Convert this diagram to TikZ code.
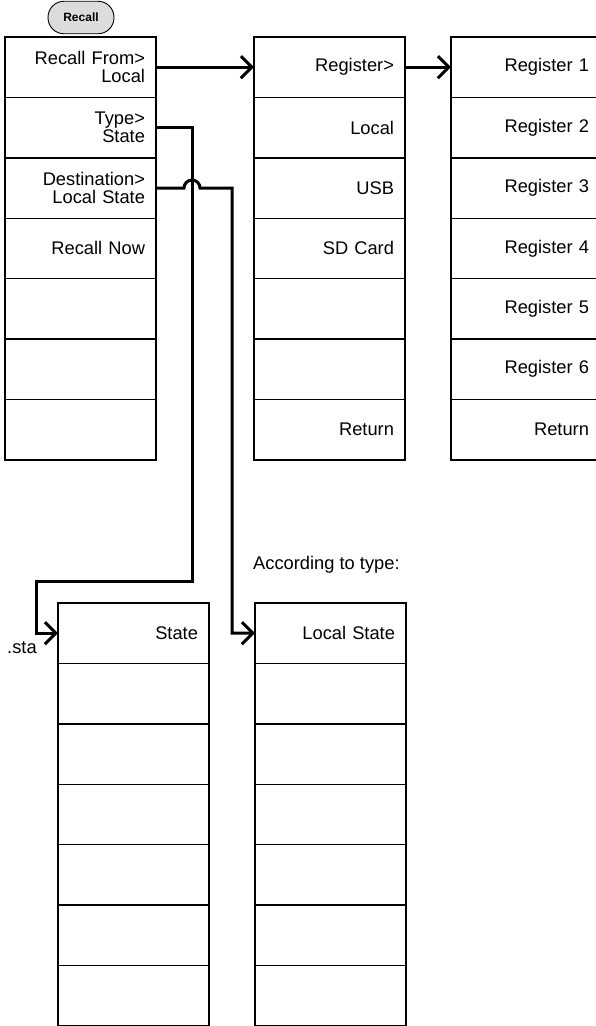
\documentclass[tikz,border=0pt]{standalone}
\usepackage{fontspec}
\setmainfont{Liberation Sans}
\usetikzlibrary{arrows.meta}

\begin{document}
\begin{tikzpicture}[x=1pt,y=-1pt,
	menukey/.style={draw=black, line width=1.4pt, fill=white, outer sep=0pt,
		minimum height=60.4pt, text width=129pt, inner xsep=11pt, inner ysep=0pt,
		align=right, anchor=north west, font=\fontsize{18.3}{18}\selectfont},
	conn/.style={line width=3pt},
	arr/.style={conn, -{Straight Barb[length=11pt,width=22pt]}},
	note/.style={anchor=west, inner sep=0pt, font=\fontsize{18.3}{18}\selectfont}]
	
	% Farben
	\definecolor{btngray}{RGB}{220,220,220}
	
	\useasboundingbox (0,0) rectangle (596,1026);
	
	% Recall-Taste
	\node[draw=black, fill=btngray, line width=0.9pt, rounded corners=16pt,
		minimum width=66pt, minimum height=32.5pt, inner sep=0pt,
		font=\bfseries\fontsize{12}{12}\selectfont] (recallkey) at (81,17.5) {Recall};
	
	% Hauptmenue
	\foreach \i/\lbl in {1/{Recall From>\\Local}, 2/{Type>\\State},
		3/{Destination>\\Local State}, 4/{Recall Now}, 5/{}, 6/{}, 7/{}}
		\node[menukey] (l\i) at (5,{37+(\i-1)*60.4}) {\lbl};
	
	% Recall From
	\foreach \i/\lbl in {1/{Register>}, 2/{Local}, 3/{USB}, 4/{SD Card}, 5/{}, 6/{}, 7/{Return}}
		\node[menukey] (m\i) at (254,{37+(\i-1)*60.4}) {\lbl};
	
	% Register
	\foreach \i/\lbl in {1/{Register 1}, 2/{Register 2}, 3/{Register 3}, 4/{Register 4},
		5/{Register 5}, 6/{Register 6}, 7/{Return}}
		\node[menukey, text width=127pt] (r\i) at (451,{37+(\i-1)*60.4}) {\lbl};
	
	% Typ und Ziel
	\foreach \i/\lbl in {1/{State}, 2/{}, 3/{}, 4/{}, 5/{}, 6/{}, 7/{}}
		\node[menukey] (s\i) at (58,{603+(\i-1)*60.4}) {\lbl};
	\foreach \i/\lbl in {1/{Local State}, 2/{}, 3/{}, 4/{}, 5/{}, 6/{}, 7/{}}
		\node[menukey] (d\i) at (255,{603+(\i-1)*60.4}) {\lbl};
	
	% Hinweise
	\node[note] (typenote) at (253,565) {According to type:};
	\node[note] (stanote) at (7,648) {.sta};
	
	% Verbindungen
	\coordinate (typedown) at (192,581);
	\coordinate (typeleft) at (36,581);
	\coordinate (jumpin) at (184,188);
	\coordinate (destdown) at (232,188);
	
	\draw[arr] (l1.east) -- (m1.west);
	\draw[arr] (m1.east) -- (r1.west);
	\draw[arr] (l2.east) -| (typedown) -- (typeleft) |- (s1.west);
	\draw[arr] (l3.east) -- (jumpin) arc[start angle=180, end angle=360, radius=8] -- (destdown) |- (d1.west);
	
\end{tikzpicture}
\end{document}
